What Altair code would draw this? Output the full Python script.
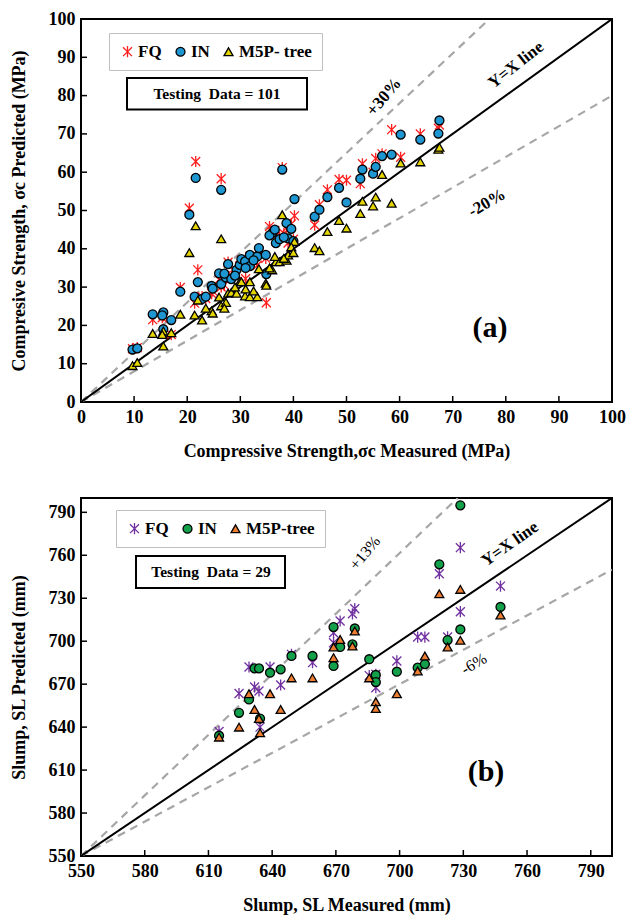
import altair as alt
import pandas as pd

FONT = "Liberation Serif"
ASTER = "M-1,-1L1,1M-1,1L1,-1M0,-1.25L0,1.25"

# ---------------- Panel (a): compressive strength ----------------
a_names = ["FQ", "IN", "M5P- tree"]
a_measured = [9.7, 10.6, 13.5, 15.5, 15.3, 15.5, 17.0, 18.7, 20.4, 21.6, 26.4, 22.0, 21.4, 22.8,
              24.6, 24.8, 26.0, 26.4, 27.3, 27.7, 28.3, 29.3, 29.9, 30.2, 30.9, 31.8, 31.8, 33.2,
              33.5, 34.8, 34.9, 36.0, 36.7, 37.4, 37.9, 38.7, 39.0, 40.2, 44.0, 44.9, 46.4, 48.6,
              50.0, 52.6, 53.0, 55.0, 55.5, 56.7, 58.5, 60.2, 63.9, 67.3, 67.5, 38.2, 39.6, 35.5,
              32.5, 29.0, 31.0, 36.5, 40.0, 23.5, 27.0]
a_fq = [13.9, 14.2, 21.5, 22.5, 22.0, 18.0, 17.6, 29.9, 50.6, 62.8, 58.3, 34.5, 25.8, 27.5,
        28.3, 29.0, 32.0, 30.0, 33.0, 36.5, 32.9, 33.5, 35.5, 37.0, 35.8, 38.0, 36.0, 35.7,
        39.5, 37.5, 25.9, 44.5, 42.0, 43.0, 61.2, 45.5, 41.5, 48.6, 46.2, 51.5, 55.4, 58.1,
        57.9, 57.0, 62.2, 60.0, 63.6, 64.8, 71.1, 63.9, 70.0, 71.5, 72.3, 44.0, 46.5, 45.8,
        36.6, 34.0, 32.2, 44.8, 42.5, 27.0, 30.5]
a_in = [13.7, 14.0, 22.9, 23.4, 22.6, 19.0, 21.4, 28.8, 48.9, 58.5, 55.4, 31.3, 27.5, 26.9,
        30.3, 29.6, 33.6, 30.8, 32.5, 36.0, 32.1, 34.5, 35.8, 37.3, 36.7, 38.4, 35.5, 38.0,
        40.2, 38.4, 33.4, 44.1, 41.5, 42.5, 60.7, 46.7, 42.7, 53.0, 48.4, 50.2, 53.5, 55.9,
        52.1, 58.3, 60.7, 59.6, 61.4, 64.2, 64.6, 69.8, 68.5, 70.1, 73.5, 43.0, 45.2, 43.5,
        37.0, 33.0, 35.0, 45.0, 42.0, 27.5, 33.5]
a_m5p = [9.5, 10.3, 17.9, 18.5, 17.6, 14.6, 18.1, 22.9, 39.0, 46.0, 42.6, 26.6, 22.7, 21.4,
         23.8, 23.2, 27.4, 25.1, 26.0, 28.4, 28.6, 28.4, 31.4, 31.4, 27.7, 31.4, 27.5, 27.5,
         34.8, 31.0, 30.5, 34.5, 36.6, 36.6, 48.9, 37.0, 38.4, 41.9, 40.3, 39.5, 44.5, 47.4,
         45.4, 49.2, 52.4, 51.2, 53.5, 59.4, 51.9, 62.4, 62.7, 66.0, 66.5, 37.5, 40.5, 35.0,
         29.0, 30.0, 29.5, 38.0, 39.0, 24.5, 24.5]
a_fills = ["transparent", "#1e96d2", "#e6d600"]
a_strokes = ["#ff1f1f", "black", "black"]
a_domain = [0, 100]
a_ticks = [0, 10, 20, 30, 40, 50, 60, 70, 80, 90, 100]
a_inner = [10, 20, 30, 40, 50, 60, 70, 80, 90]
a_yx_x = [0, 100]
a_yx_y = [0, 100]
a_up_x = [0, 76.9]
a_up_y = [0, 100]
a_lo_x = [0, 100]
a_lo_y = [0, 80]
a_up_label = "+30%"
a_lo_label = "-20%"
a_testing = "Testing\u00a0 Data = 101"

# ---------------- Panel (b): slump ----------------
b_names = ["FQ", "IN", "M5P-tree"]
b_measured = [615.0, 624.4, 629.1, 631.7, 633.8, 634.3, 639.0, 644.0, 649.1, 659.0, 668.9, 668.9,
              672.0, 677.8, 678.9, 685.7, 688.8, 688.8, 698.7, 708.5, 711.9, 718.7, 722.6, 728.6,
              728.6, 747.5]
b_fq = [637.0, 663.5, 682.0, 668.0, 665.2, 640.0, 682.0, 669.4, 690.8, 685.0, 705.9, 698.9,
        714.1, 719.1, 722.7, 676.0, 667.5, 676.9, 686.2, 702.9, 702.9, 747.1, 703.0, 765.3,
        720.6, 738.5]
b_in = [634.0, 650.0, 659.3, 681.0, 681.0, 646.0, 678.0, 680.3, 689.7, 689.7, 709.9, 682.7,
        696.0, 697.8, 708.9, 687.4, 676.4, 671.5, 678.7, 681.5, 684.0, 753.7, 700.8, 794.9,
        708.2, 723.9]
b_m5p = [633.0, 640.0, 663.3, 652.3, 646.0, 636.0, 663.3, 652.3, 674.4, 674.4, 696.0, 688.5,
         701.2, 696.6, 707.1, 674.4, 657.7, 653.0, 663.3, 679.2, 689.7, 733.1, 696.0, 736.2,
         700.6, 718.3]
b_fills = ["transparent", "#12a04b", "#ed7d31"]
b_strokes = ["#7030a0", "black", "black"]
b_domain = [550, 800]
b_ticks = [550, 580, 610, 640, 670, 700, 730, 760, 790]
b_inner = [580, 610, 640, 670, 700, 730, 760, 790]
b_yx_x = [550, 800]
b_yx_y = [550, 800]
b_up_x = [550, 727.3]
b_up_y = [550, 800]
b_lo_x = [550, 800]
b_lo_y = [550, 750]
b_up_label = "+13%"
b_lo_label = "-6%"
b_testing = "Testing\u00a0 Data = 29"


def long_df(measured, series, names):
    rows = []
    for name, vals in zip(names, series):
        for m, p in zip(measured, vals):
            rows.append({"x": m, "y": p, "series": name})
    return pd.DataFrame(rows)


def lines_df(segments):
    rows = []
    for name, xs, ys in segments:
        for xv, yv in zip(xs, ys):
            rows.append({"x": xv, "y": yv, "line": name})
    return pd.DataFrame(rows)


def panel(df, names, fills, strokes, domain, ticks, inner, yx, dashed, W, H,
          xtitle, ytitle, leg_xy, box, box_text, box_center, texts):
    xs = alt.Scale(domain=domain, nice=False, zero=False)
    ys = alt.Scale(domain=domain, nice=False, zero=False)
    xax = alt.Axis(values=ticks, ticks=False, tickSize=0, domain=False, grid=False,
                   labelFlush=False, labelOverlap=False, labelPadding=6, titlePadding=16, format="d")
    yax = alt.Axis(values=ticks, ticks=False, tickSize=0, domain=False, grid=False,
                   labelFlush=False, labelOverlap=False, labelPadding=6, titlePadding=20, format="d")

    def X():
        return alt.X("x:Q", scale=xs, axis=xax, title=xtitle)

    def Y():
        return alt.Y("y:Q", scale=ys, axis=yax, title=ytitle)

    leg = alt.Legend(title=None, orient="none", legendX=leg_xy[0], legendY=leg_xy[1],
                     direction="horizontal", padding=10, columnPadding=10,
                     labelFont=FONT, labelFontSize=17, labelFontWeight="bold", labelColor="black",
                     labelOffset=2, symbolSize=80, symbolStrokeWidth=1.3,
                     strokeColor="#bfbfbf", fillColor="white")

    dash = alt.Chart(lines_df(dashed)).mark_line(
        color="#a6a6a6", strokeWidth=2.2, strokeDash=[8, 6], clip=True
    ).encode(x=X(), y=Y(), detail="line:N")
    ref = alt.Chart(lines_df([yx])).mark_line(
        color="black", strokeWidth=2, clip=True
    ).encode(x=X(), y=Y(), detail="line:N")

    pts = alt.Chart(df).mark_point(size=80, opacity=1, strokeWidth=1.3, clip=True).encode(
        x=X(), y=Y(),
        fill=alt.Fill("series:N", scale=alt.Scale(domain=names, range=fills), legend=leg),
        stroke=alt.Stroke("series:N", scale=alt.Scale(domain=names, range=strokes), legend=leg),
        shape=alt.Shape("series:N", scale=alt.Scale(domain=names, range=[ASTER, "circle", "triangle-up"]), legend=leg),
    )

    xt = alt.Chart(pd.DataFrame({"x": inner})).mark_rule(color="black", strokeWidth=1.5).encode(
        x=X(), y=alt.value(H), y2=alt.value(H - 6))
    yt = alt.Chart(pd.DataFrame({"y": inner})).mark_rule(color="black", strokeWidth=1.5).encode(
        y=Y(), x=alt.value(0), x2=alt.value(6))

    bdf = pd.DataFrame({"t": [box_text]})
    brect = alt.Chart(bdf).mark_rect(fill="white", stroke="black", strokeWidth=2).encode(
        x=alt.value(box[0]), x2=alt.value(box[2]), y=alt.value(box[1]), y2=alt.value(box[3]))
    btxt = alt.Chart(bdf).mark_text(font=FONT, fontSize=15.5, fontWeight="bold", color="black").encode(
        x=alt.value(box_center[0]), y=alt.value(box_center[1]), text="t:N")

    layers = [dash, ref, pts, xt, yt, brect, btxt]
    for label, px, py, ang, fs, fw in texts:
        tdf = pd.DataFrame({"t": [label]})
        layers.append(
            alt.Chart(tdf).mark_text(font=FONT, fontSize=fs, fontWeight=fw, color="black", angle=ang).encode(
                x=alt.value(px), y=alt.value(py), text="t:N")
        )
    return alt.layer(*layers).properties(width=W, height=H)


df_a = long_df(a_measured, [a_fq, a_in, a_m5p], a_names)
df_b = long_df(b_measured, [b_fq, b_in, b_m5p], b_names)

chart_a = panel(
    df_a, a_names, a_fills, a_strokes, a_domain, a_ticks, a_inner,
    ("yx", a_yx_x, a_yx_y), [("up", a_up_x, a_up_y), ("lo", a_lo_x, a_lo_y)],
    531, 383,
    "Compressive Strength,σc Measured (MPa)", "Compresive Strength, σc Predicted (MPa)",
    (28, 14), (46, 59, 226, 90.5), a_testing, (136, 75),
    [(a_up_label, 303, 78, 310, 17, "bold"),
     ("Y=X line", 435, 46, 322, 17, "bold"),
     (a_lo_label, 406, 184, 330, 17, "bold"),
     ("(a)", 409, 309, 0, 30, "bold")],
)

chart_b = panel(
    df_b, b_names, b_fills, b_strokes, b_domain, b_ticks, b_inner,
    ("yx", b_yx_x, b_yx_y), [("up", b_up_x, b_up_y), ("lo", b_lo_x, b_lo_y)],
    531, 358,
    "Slump, SL Measured (mm)", "Slump, SL Predicted (mm)",
    (35, 12), (55, 58, 204, 90), b_testing, (130, 74),
    [(b_up_label, 284, 55, 310, 16, "normal"),
     ("Y=X line", 429, 46, 325, 17, "bold"),
     (b_lo_label, 393, 166, 330, 16, "normal"),
     ("(b)", 405, 274, 0, 30, "bold")],
)

chart = alt.vconcat(chart_a, chart_b, spacing=36).resolve_scale(
    x="independent", y="independent", fill="independent", stroke="independent", shape="independent"
).properties(
    padding={"left": 1, "top": 1, "right": 2, "bottom": 5}, background="white"
).configure_view(
    stroke="black", strokeWidth=2
).configure_axis(
    labelFont=FONT, labelFontSize=18, labelFontWeight="bold", labelColor="black",
    titleFont=FONT, titleFontSize=18, titleFontWeight="bold", titleColor="black"
)

chart.save("out.html", embed_options={"renderer": "svg", "actions": False})
